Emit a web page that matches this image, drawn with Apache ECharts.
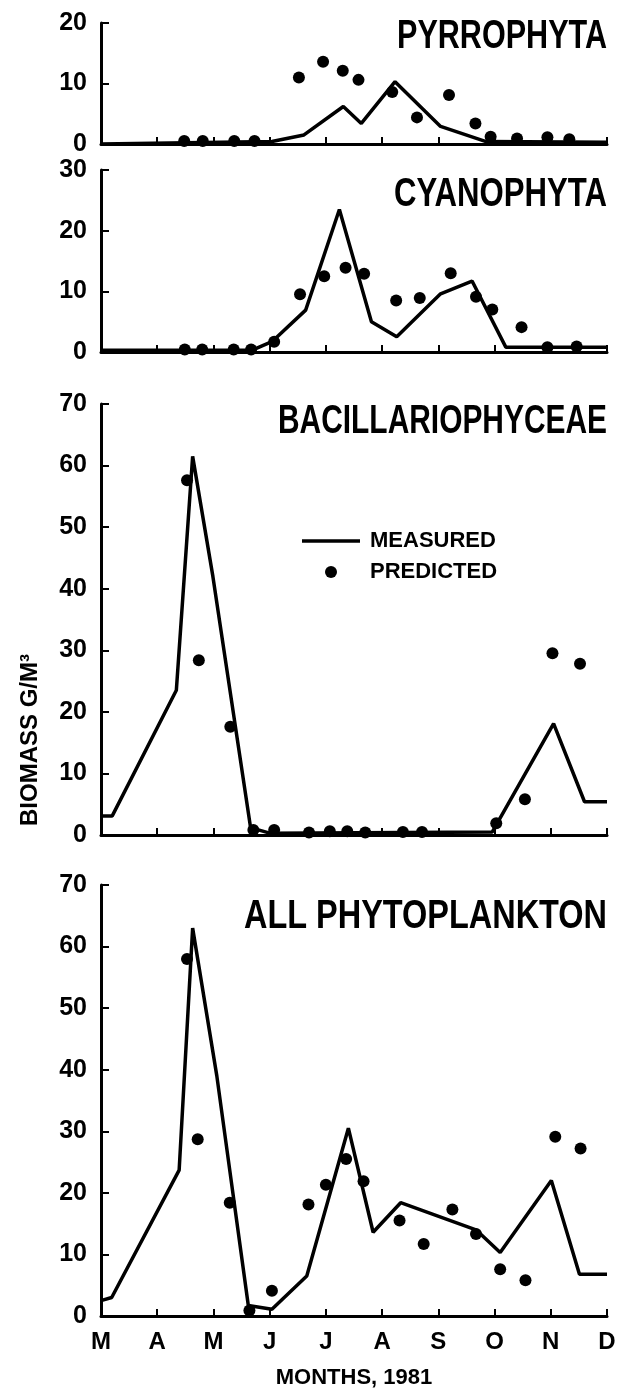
<!DOCTYPE html>
<html><head><meta charset="utf-8">
<script src="https://cdn.jsdelivr.net/npm/echarts@6/dist/echarts.min.js"></script>
<style>html,body{margin:0;padding:0;background:#fff}#c{width:619px;height:1395px}</style>
</head><body><div id="c"></div>
<script>
// ---- data (x in months after 1 March 1981, y in g/m^3) ----
const monthLabels = ['M','A','M','J','J','A','S','O','N','D'];
const panelTitles = ['PYRROPHYTA','CYANOPHYTA','BACILLARIOPHYCEAE','ALL PHYTOPLANKTON'];
const yMaxima = [20, 30, 70, 70];

const pyrMeasured = [[0,0],[3.04,0.4],[3.61,1.5],[4.31,6.2],[4.63,3.4],[5.23,10.3],[6.04,2.9],[6.85,0.4],[9,0.3]];
const pyrPredicted = [[1.48,0.5],[1.81,0.5],[2.37,0.5],[2.73,0.5],[3.52,11.0],[3.95,13.6],[4.30,12.1],[4.58,10.6],[5.18,8.6],[5.62,4.4],[6.19,8.1],[6.66,3.4],[6.93,1.2],[7.40,0.9],[7.94,1.1],[8.33,0.8]];

const cyaMeasured = [[0,0.3],[2.69,0.3],[3.04,1.7],[3.64,6.9],[4.24,23.5],[4.81,5.0],[5.26,2.5],[6.04,9.6],[6.60,11.7],[7.20,0.8],[9,0.8]];
const cyaPredicted = [[1.49,0.4],[1.80,0.4],[2.36,0.4],[2.67,0.4],[3.08,1.7],[3.54,9.5],[3.97,12.5],[4.35,13.9],[4.68,12.9],[5.25,8.5],[5.67,8.9],[6.22,13.0],[6.67,9.1],[6.96,7.0],[7.48,4.1],[7.94,0.8],[8.46,0.9]];

const bacMeasured = [[0,3.1],[0.2,3.1],[1.34,23.5],[1.63,61.5],[1.99,42],[2.66,1.2],[3.0,0.3],[6.96,0.5],[8.05,18.1],[8.6,5.4],[9,5.4]];
const bacPredicted = [[1.53,57.6],[1.74,28.4],[2.30,17.6],[2.71,0.8],[3.08,0.8],[3.70,0.4],[4.07,0.6],[4.38,0.6],[4.70,0.4],[5.37,0.5],[5.71,0.5],[7.03,1.9],[7.54,5.8],[8.03,29.5],[8.52,27.8]];

const allMeasured = [[0,2.5],[0.19,3],[1.39,23.7],[1.63,63],[2.06,39],[2.62,1.7],[3.04,1.1],[3.66,6.5],[4.40,30.5],[4.84,13.6],[5.33,18.4],[6.67,14],[7.10,10.3],[8.01,22],[8.51,6.8],[9,6.8]];
const allPredicted = [[1.53,58.0],[1.72,28.7],[2.29,18.4],[2.64,0.9],[3.04,4.1],[3.69,18.1],[4.00,21.3],[4.36,25.5],[4.67,21.9],[5.31,15.5],[5.74,11.7],[6.25,17.3],[6.67,13.3],[7.10,7.6],[7.55,5.8],[8.08,29.1],[8.53,27.2]];

const measuredSets = [pyrMeasured, cyaMeasured, bacMeasured, allMeasured];
const predictedSets = [pyrPredicted, cyaPredicted, bacPredicted, allPredicted];

// ---- layout ----
const FONT = "'Liberation Sans', Arial, sans-serif";
const gridBoxes = [
  {top: 23, height: 121},
  {top: 170, height: 182},
  {top: 404, height: 431},
  {top: 885, height: 431}
];
const titleBoxes = [
  {y: 37, w: 210}, {y: 195, w: 213}, {y: 422, w: 329}, {y: 917, w: 363}
];
const ctx = document.createElement('canvas').getContext('2d');
function fit(text, font, target){
  ctx.font = font;
  return target / ctx.measureText(text).width;
}

const chart = echarts.init(document.getElementById('c'), null, {renderer: 'canvas'});
const grids = [], xAxes = [], yAxes = [], series = [], graphics = [];
gridBoxes.forEach((b, i) => {
  grids.push({left: 101, right: 12, top: b.top, height: b.height});
  const last = i === gridBoxes.length - 1;
  xAxes.push({
    type: 'value', gridIndex: i, min: 0, max: 9, interval: 1,
    axisLine: {show: true, lineStyle: {color: '#000', width: 3}},
    axisTick: {show: true, inside: true, length: 7, lineStyle: {color: '#000', width: 2}},
    splitLine: {show: false},
    axisLabel: {show: last, margin: 14, color: '#000', fontFamily: FONT, fontWeight: 'bold', fontSize: 24,
      formatter: v => monthLabels[Math.round(v)] || ''},
    name: last ? 'MONTHS, 1981' : '', nameLocation: 'middle', nameGap: 51,
    nameTextStyle: {color: '#000', fontFamily: FONT, fontWeight: 'bold', fontSize: 22}
  });
  yAxes.push({
    type: 'value', gridIndex: i, min: 0, max: yMaxima[i], interval: 10,
    axisLine: {show: true, lineStyle: {color: '#000', width: 3}},
    axisTick: {show: true, inside: true, length: 8, lineStyle: {color: '#000', width: 2}},
    splitLine: {show: false},
    axisLabel: {margin: 14, color: '#000', fontFamily: FONT, fontWeight: 'bold', fontSize: 25}
  });
  series.push({
    name: 'MEASURED', type: 'line', xAxisIndex: i, yAxisIndex: i,
    data: measuredSets[i], symbol: 'none', showSymbol: false, z: 3,
    lineStyle: {color: '#000', width: 3.5}, itemStyle: {color: '#000'}
  });
  series.push({
    name: 'PREDICTED', type: 'scatter', xAxisIndex: i, yAxisIndex: i,
    data: predictedSets[i], symbol: 'circle', symbolSize: 12, z: 4,
    itemStyle: {color: '#000', opacity: 1}
  });
  const tf = 'bold 41px ' + FONT;
  graphics.push({
    type: 'text', x: 607, y: titleBoxes[i].y, scaleX: fit(panelTitles[i], tf, titleBoxes[i].w),
    style: {text: panelTitles[i], font: tf, fill: '#000', align: 'right', verticalAlign: 'middle'}
  });
});
graphics.push({
  type: 'text', x: 30, y: 740, rotation: Math.PI / 2,
  style: {text: 'BIOMASS G/M³', font: 'bold 24px ' + FONT, fill: '#000', align: 'center', verticalAlign: 'middle'}
});

chart.setOption({
  animation: false,
  backgroundColor: '#fff',
  grid: grids, xAxis: xAxes, yAxis: yAxes, series: series,
  legend: {
    data: [
      {name: 'MEASURED', icon: 'path://M0 0H58V3.5H0Z'},
      {name: 'PREDICTED', icon: 'circle'}
    ],
    orient: 'vertical', left: 297, top: 524,
    itemWidth: 58, itemHeight: 12, itemGap: 7, selectedMode: false,
    itemStyle: {color: '#000', opacity: 1},
    textStyle: {color: '#000', fontFamily: FONT, fontWeight: 'bold', fontSize: 22, lineHeight: 24, padding: [0, 0, 0, 5]}
  },
  graphic: graphics
});
</script>
</body></html>
